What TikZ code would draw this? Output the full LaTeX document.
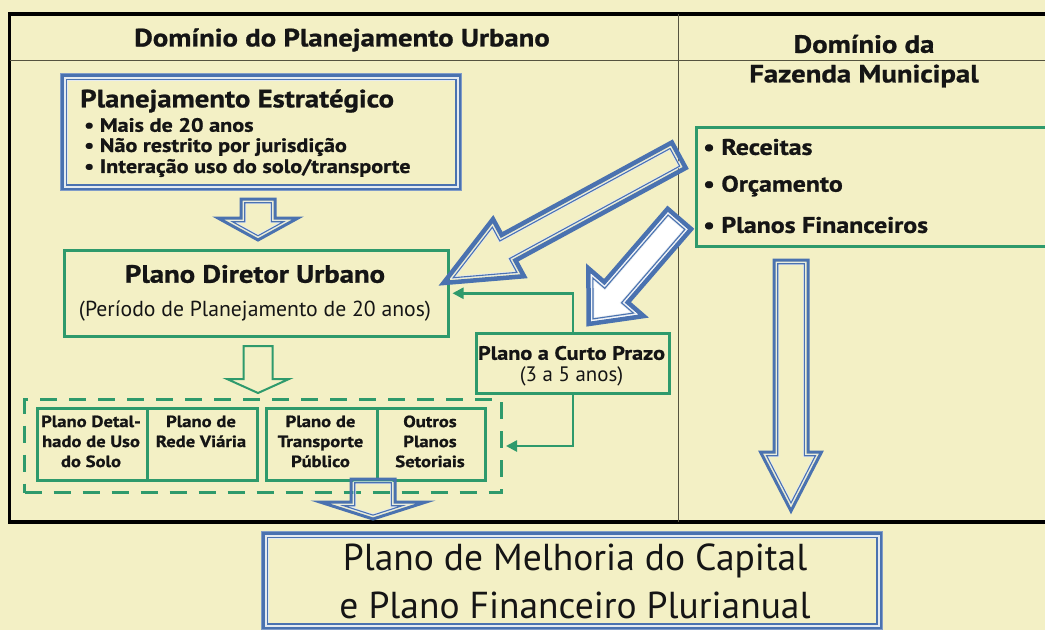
\documentclass[tikz,border=0pt]{standalone}
\usepackage{fontspec}
\setmainfont{PT Sans}[BoldFeatures={FakeStretch=1.15,FakeBold=1}]
\usetikzlibrary{calc,arrows.meta}
\definecolor{bg}{HTML}{F3F0C5}
\definecolor{ablue}{HTML}{4A72B0}
\definecolor{agreen}{HTML}{2E9A6C}
\definecolor{pale}{HTML}{E4EAF0}
\definecolor{rule}{HTML}{55533F}
\definecolor{ink}{HTML}{151515}

\newcommand{\defarrow}[4]{%
  \path (#2) coordinate (#1T) (#3) coordinate (#1H);
  \path ($(#1H)!#4pt!(#1T)$) coordinate (#1B);
}
\newcommand{\arrowpoly}[3]{%
  ($(#1T)!#2pt!90:(#1H)$) -- ($(#1B)!#2pt!90:(#1H)$) -- ($(#1B)!#3pt!90:(#1H)$) -- (#1H) -- ($(#1B)!#3pt!-90:(#1H)$) -- ($(#1B)!#2pt!-90:(#1H)$) -- ($(#1T)!#2pt!-90:(#1H)$) -- cycle}
% #1 name #2 colour #3 fill #4 tail #5 tip #6 shaft half #7 head half #8 head length #9 line width
\newcommand{\blockarrow}[9]{%
  \pgfmathsetmacro\baD{#9/2+2.2}%
  \pgfmathsetmacro\baAl{atan(#7/#8)}%
  \pgfmathsetmacro\baTip{\baD/sin(\baAl)}%
  \pgfmathsetmacro\biHL{#8-\baD-\baTip}%
  \pgfmathsetmacro\biHW{\biHL*#7/#8}%
  \pgfmathsetmacro\biSW{#6-\baD}%
  \defarrow{#1o}{#4}{#5}{#8}%
  \path ($(#1oT)!\baD pt!(#1oH)$) coordinate (#1iT) ($(#1oH)!\baTip pt!(#1oT)$) coordinate (#1iH);
  \path ($(#1iH)!\biHL pt!(#1iT)$) coordinate (#1iB);
  \filldraw[draw=#2, fill=#3, line width=#9pt, line join=miter] \arrowpoly{#1o}{#6}{#7};
  \draw[draw=pale, line width=2.6pt, line join=miter] \arrowpoly{#1i}{\biSW}{\biHW};
  \draw[draw=#2, line width=1.1pt, line join=miter] \arrowpoly{#1i}{\biSW}{\biHW};
}
\newcommand{\dblframe}[1]{%
  \draw[pale, line width=6pt] ([shift={(4.5,4.5)}]#1.north west) rectangle ([shift={(-4.5,-4.5)}]#1.south east);
  \draw[ablue!70!white, line width=1pt] ([shift={(0.5,0.5)}]#1.north west) rectangle ([shift={(-0.5,-0.5)}]#1.south east);
  \draw[ablue, line width=2.6pt] ([shift={(2.3,2.3)}]#1.north west) rectangle ([shift={(-2.3,-2.3)}]#1.south east);
  \draw[ablue, line width=1.2pt] ([shift={(6.5,6.5)}]#1.north west) rectangle ([shift={(-6.5,-6.5)}]#1.south east);
}

\tikzset{
  every node/.style={text=ink},
  gbox/.style={draw=agreen, line width=2.5pt},
  frame/.style={anchor=north west, inner sep=0pt},
  conn/.style={draw=agreen, line width=2.5pt, -{Triangle[length=11pt,width=11pt]}, shorten >=3pt},
  hd/.style={font=\bfseries\fontsize{25}{29}\selectfont},
  big/.style={font=\bfseries\fontsize{25}{29}\selectfont},
  bul/.style={anchor=west, inner sep=0pt, font=\bfseries\fontsize{19.3}{22}\selectfont},
  sub/.style={font=\fontsize{21.7}{25}\selectfont},
  sm/.style={font=\bfseries\fontsize{16.2}{20}\selectfont},
  rb/.style={anchor=west, inner sep=0pt, font=\bfseries\fontsize{22.5}{26}\selectfont},
  cp/.style={font=\bfseries\fontsize{19.3}{22}\selectfont},
  cps/.style={font=\fontsize{20.9}{24}\selectfont},
  mel/.style={font=\fontsize{37.5}{44}\selectfont},
}

\begin{document}
\begin{tikzpicture}[x=1pt, y=-1pt]
\useasboundingbox (0,0) rectangle (1045,630);
\fill[bg] (0,0) rectangle (1045,630);

% outer frame and rules
\draw[black, line width=3.8pt] (9.5,14) rectangle (1060,522);
\draw[rule, line width=0.9pt] (9.5,60) -- (1045,60);
\draw[rule, line width=0.9pt] (678,14) -- (678,522);

\node[hd] (h1) at (342,40) {Domínio do Planejamento Urbano};
\node[hd] (h2) at (864,44) {Domínio da};
\node[hd] (h3) at (864,76) {Fazenda Municipal};

% Planejamento Estrategico
\node[frame, minimum width=402pt, minimum height=118pt] (E) at (60,73) {};
\dblframe{E}
\node[anchor=west, inner sep=0pt, font=\bfseries\fontsize{25}{29}\selectfont] (e0) at (80,101) {Planejamento Estratégico};
\node[bul] (e1) at (84,125) {• Mais de 20 anos};
\node[bul] (e2) at (84,147) {• Não restrito por jurisdição};
\node[bul] (e3) at (84,168) {• Interação uso do solo/transporte};

% Plano Diretor Urbano
\node[frame, gbox, minimum width=384pt, minimum height=86pt] (PDU) at (63,249) {};
\node[big] (p1) at (255,274) {Plano Diretor Urbano};
\node[sub] (p2) at (255,311) {(Período de Planejamento de 20 anos)};

% right box
\node[frame, gbox, minimum width=380pt, minimum height=119pt] (R) at (695,126) {};
\node[rb] (r1) at (703,147) {• Receitas};
\node[rb] (r2) at (703,186) {• Orçamento};
\node[rb] (r3) at (703,225) {• Planos Financeiros};

% Plano a curto prazo
\node[frame, gbox, minimum width=193pt, minimum height=60pt] (CP) at (475,332) {};
\node[cp] (c1) at (571.5,353) {Plano a Curto Prazo};
\node[cps] (c2) at (571.5,376) {(3 a 5 anos)};

% dashed group and sector plans
\node[frame, draw=agreen, line width=3pt, dash pattern=on 17pt off 12pt, minimum width=477pt, minimum height=93pt] (G) at (23,398) {};
\node[frame, gbox, minimum width=110pt, minimum height=72pt] (b1) at (36,407) {};
\node[frame, gbox, minimum width=110pt, minimum height=72pt] (b2) at (146,407) {};
\node[frame, gbox, minimum width=111pt, minimum height=72pt] (b3) at (265,407) {};
\node[frame, gbox, minimum width=108pt, minimum height=72pt] (b4) at (376,407) {};
\node[sm, align=center, anchor=north] (t1) at (91,412) {Plano Detal-\\hado de Uso\\do Solo};
\node[sm, align=center, anchor=north] (t2) at (201,412) {Plano de\\Rede Viária};
\node[sm, align=center, anchor=north] (t3) at (320.5,412) {Plano de\\Transporte\\Público};
\node[sm, align=center, anchor=north] (t4) at (430,412) {Outros\\Planos\\Setoriais};

% bottom box
\node[frame, minimum width=622pt, minimum height=99pt] (M) at (261,531) {};
\dblframe{M}
\node[mel] (m1) at (575,561) {Plano de Melhoria do Capital};
\node[mel] (m2) at (575,605) {e Plano Financeiro Plurianual};

% connectors
\draw[conn] (CP.north) |- (PDU.east);
\draw[conn] (CP.south) |- (G.east);

% block arrows
\blockarrow{a1}{ablue}{none}{258,199}{258,240}{17}{40}{22}{3}
\defarrow{g}{258,346}{258,393}{14}
\draw[agreen, line width=2pt, line join=miter] \arrowpoly{g}{14.5}{31};
\blockarrow{a3}{ablue}{none}{373,479}{373,519}{22}{53}{17}{3}
\blockarrow{a4}{ablue}{none}{791,260}{791,511}{17}{30.5}{59}{3}
\blockarrow{aA}{ablue}{none}{678.8,155.2}{443.5,283}{14.5}{32.5}{74}{4.5}
\blockarrow{aB}{ablue}{white}{679.4,218.9}{588.6,324}{15.5}{36.5}{42}{4.5}
\end{tikzpicture}
\end{document}
